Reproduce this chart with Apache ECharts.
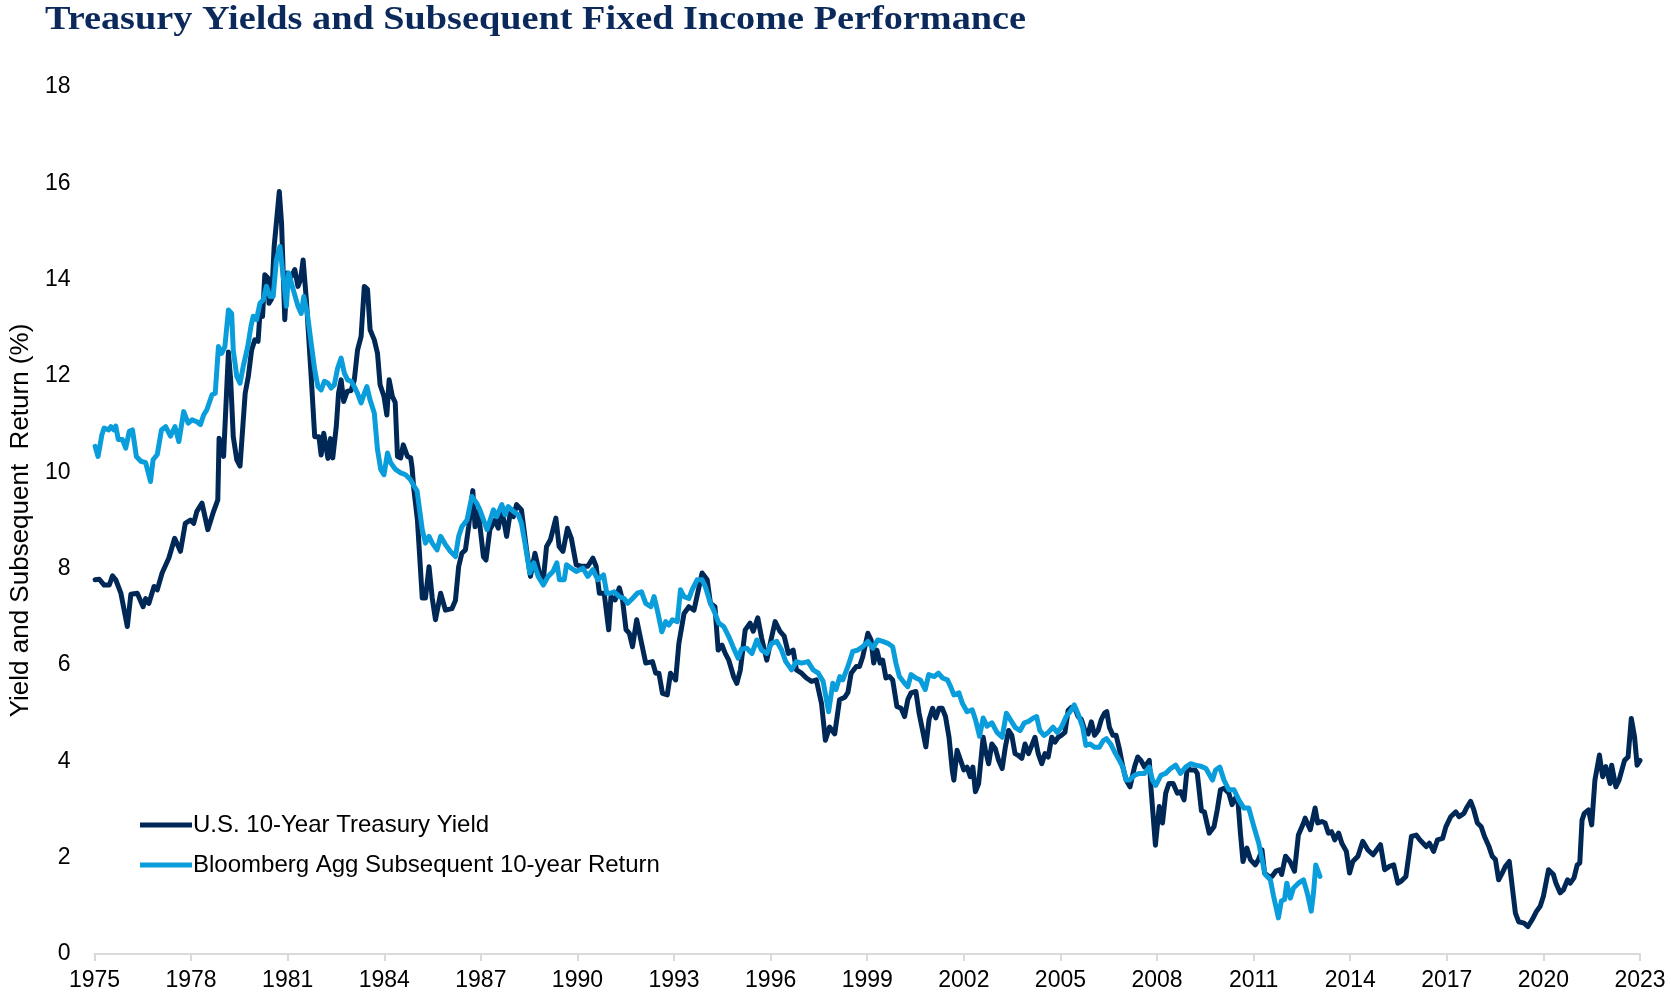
<!DOCTYPE html>
<html>
<head>
<meta charset="utf-8">
<script src="https://cdn.jsdelivr.net/npm/echarts@6/dist/echarts.min.js"></script>
<style>
  html, body { margin: 0; padding: 0; background: #fff; }
  #chart { width: 1671px; height: 998px; }
</style>
</head>
<body>
<div id="chart"></div>
<script>
// [year position on the axis, value in %]
var treasuryYield = [
  [1975.02,7.77],[1975.15,7.78],[1975.30,7.66],[1975.46,7.66],[1975.56,7.85],[1975.66,7.77],[1975.82,7.49],
  [1976.02,6.80],[1976.13,7.47],[1976.33,7.49],[1976.51,7.21],[1976.59,7.38],[1976.69,7.28],[1976.85,7.63],[1976.95,7.56],
  [1977.10,7.91],[1977.31,8.22],[1977.49,8.63],[1977.67,8.36],[1977.82,8.94],[1977.98,9.01],
  [1978.08,8.94],[1978.18,9.19],[1978.34,9.36],[1978.52,8.81],[1978.70,9.19],[1978.83,9.43],[1978.87,10.71],
  [1979.01,10.33],[1979.16,12.50],[1979.23,11.92],[1979.31,10.74],[1979.42,10.26],[1979.52,10.13],[1979.68,11.64],[1979.78,12.00],[1979.88,12.54],[1979.98,12.75],
  [1980.08,12.72],[1980.14,13.30],[1980.22,13.24],[1980.29,14.10],[1980.38,14.04],[1980.42,13.51],[1980.50,13.60],[1980.58,14.69],[1980.74,15.83],[1980.81,15.17],[1980.91,13.17],[1980.99,14.14],
  [1981.12,14.07],[1981.22,14.21],[1981.32,13.86],[1981.40,14.00],[1981.48,14.41],[1981.58,13.58],[1981.73,11.99],[1981.84,10.74],[1981.97,10.74],
  [1982.04,10.36],[1982.12,10.81],[1982.25,10.29],[1982.33,10.70],[1982.40,10.30],[1982.51,10.95],[1982.58,11.64],[1982.66,11.92],[1982.74,11.47],[1982.85,11.68],[1982.97,11.70],
  [1983.07,11.92],[1983.17,12.54],[1983.28,12.82],[1983.38,13.86],[1983.48,13.80],[1983.56,12.96],[1983.69,12.75],[1983.79,12.47],[1983.87,11.82],[1983.99,11.58],
  [1984.08,11.19],[1984.15,11.92],[1984.25,11.58],[1984.34,11.45],[1984.41,10.33],[1984.51,10.30],[1984.59,10.57],[1984.72,10.33],[1984.82,10.30],[1984.86,10.12],[1984.92,9.64],
  [1985.03,9.01],[1985.18,7.39],[1985.28,7.39],[1985.39,8.04],[1985.49,7.39],[1985.59,6.94],[1985.75,7.49],[1985.90,7.14],
  [1986.10,7.17],[1986.21,7.34],[1986.31,8.04],[1986.41,8.32],[1986.52,8.39],[1986.62,8.87],[1986.75,9.62],[1986.82,8.87],[1986.92,9.19],
  [1987.08,8.25],[1987.16,8.18],[1987.28,8.81],[1987.44,9.01],[1987.54,8.84],[1987.65,9.22],[1987.80,8.67],[1987.91,9.15],
  [1988.01,9.08],[1988.11,9.33],[1988.26,9.22],[1988.42,8.39],[1988.54,7.84],[1988.68,8.32],[1988.81,7.94],[1988.94,7.77],
  [1989.04,8.46],[1989.16,8.60],[1989.33,9.05],[1989.43,8.46],[1989.55,8.36],[1989.69,8.84],[1989.81,8.63],[1989.96,8.08],
  [1990.11,8.05],[1990.32,8.05],[1990.48,8.22],[1990.58,8.05],[1990.68,7.49],[1990.83,7.49],[1990.97,6.73],
  [1991.04,7.42],[1991.17,7.35],[1991.30,7.60],[1991.40,7.35],[1991.51,6.73],[1991.61,6.66],[1991.71,6.38],[1991.84,6.94],[1991.97,6.52],
  [1992.12,6.04],[1992.33,6.07],[1992.43,5.83],[1992.53,5.83],[1992.64,5.41],[1992.79,5.38],[1992.89,5.83],
  [1993.05,5.69],[1993.15,6.45],[1993.31,7.07],[1993.46,7.21],[1993.62,7.14],[1993.72,7.45],[1993.87,7.91],
  [1994.03,7.77],[1994.13,7.28],[1994.27,7.21],[1994.37,6.31],[1994.49,6.41],[1994.59,6.24],[1994.70,6.10],[1994.85,5.76],[1994.95,5.62],
  [1995.06,5.90],[1995.21,6.73],[1995.36,6.87],[1995.46,6.70],[1995.60,6.98],[1995.72,6.56],[1995.88,6.10],
  [1996.01,6.52],[1996.14,6.90],[1996.29,6.70],[1996.42,6.60],[1996.55,6.24],[1996.70,6.31],[1996.80,5.90],[1996.96,5.83],
  [1997.11,5.73],[1997.27,5.66],[1997.42,5.69],[1997.58,5.20],[1997.70,4.44],[1997.83,4.71],[1997.99,4.57],
  [1998.14,5.28],[1998.30,5.33],[1998.40,5.43],[1998.50,5.83],[1998.66,5.97],[1998.76,5.97],[1998.86,6.17],
  [1999.02,6.66],[1999.12,6.52],[1999.20,6.04],[1999.30,6.31],[1999.40,6.04],[1999.48,6.10],[1999.58,5.73],[1999.69,5.76],[1999.79,5.69],[1999.92,5.14],
  [2000.05,5.10],[2000.16,4.93],[2000.26,5.28],[2000.36,5.42],[2000.51,5.45],[2000.61,5.00],[2000.72,4.64],[2000.82,4.30],[2000.92,4.87],
  [2001.03,5.10],[2001.13,4.90],[2001.23,5.10],[2001.33,5.10],[2001.43,4.93],[2001.54,4.50],[2001.64,3.82],[2001.69,3.61],[2001.79,4.23],[2001.90,4.02],
  [2002.00,3.82],[2002.10,3.88],[2002.20,3.68],[2002.28,3.88],[2002.36,3.37],[2002.46,3.54],[2002.60,4.50],[2002.67,4.23],[2002.77,3.95],[2002.87,4.36],[2002.98,4.26],
  [2003.08,4.02],[2003.19,3.85],[2003.29,4.30],[2003.39,4.64],[2003.49,4.54],[2003.59,4.16],[2003.70,4.12],[2003.80,4.06],[2003.90,4.36],
  [2004.01,4.16],[2004.11,4.33],[2004.21,4.50],[2004.31,4.16],[2004.42,3.95],[2004.52,4.16],[2004.62,4.09],[2004.73,4.50],[2004.83,4.40],[2004.93,4.50],
  [2005.03,4.54],[2005.14,4.60],[2005.24,5.06],[2005.34,5.12],[2005.45,5.10],[2005.55,4.93],[2005.65,4.87],[2005.76,4.64],[2005.86,4.57],[2005.96,4.82],
  [2006.06,4.54],[2006.17,4.64],[2006.27,4.87],[2006.37,5.00],[2006.44,5.03],[2006.52,4.71],[2006.63,4.54],[2006.73,4.54],[2006.83,4.26],[2006.94,3.88],
  [2007.04,3.61],[2007.16,3.47],[2007.30,3.88],[2007.40,4.09],[2007.50,4.02],[2007.61,3.88],[2007.76,4.02],[2007.81,3.47],[2007.95,2.26],
  [2008.07,3.06],[2008.17,2.72],[2008.27,3.34],[2008.37,3.54],[2008.50,3.54],[2008.63,3.34],[2008.73,3.37],[2008.84,3.20],[2008.94,3.88],
  [2009.04,3.82],[2009.18,3.82],[2009.25,3.75],[2009.38,2.97],[2009.47,2.95],[2009.62,2.51],[2009.77,2.64],[2009.87,2.99],[2009.97,3.41],
  [2010.08,3.44],[2010.23,3.34],[2010.33,3.10],[2010.43,3.23],[2010.51,3.20],[2010.59,2.51],[2010.67,1.92],[2010.79,2.20],[2010.90,1.96],
  [2011.05,1.85],[2011.15,1.96],[2011.26,2.16],[2011.34,1.68],[2011.47,1.61],[2011.57,1.61],[2011.69,1.72],[2011.82,1.75],[2011.87,1.65],[2011.99,2.03],
  [2012.13,1.92],[2012.27,1.72],[2012.39,2.47],[2012.55,2.72],[2012.60,2.82],[2012.76,2.58],[2012.91,3.03],[2012.99,2.72],
  [2013.12,2.75],[2013.22,2.72],[2013.32,2.51],[2013.42,2.54],[2013.52,2.37],[2013.64,2.51],[2013.74,2.30],[2013.88,2.13],[2013.98,1.68],
  [2014.08,1.92],[2014.24,2.03],[2014.39,2.34],[2014.55,2.16],[2014.71,2.06],[2014.94,2.27],
  [2015.07,1.75],[2015.22,1.82],[2015.35,1.85],[2015.48,1.47],[2015.58,1.51],[2015.73,1.61],[2015.90,2.44],
  [2016.05,2.47],[2016.16,2.37],[2016.36,2.23],[2016.46,2.30],[2016.59,2.13],[2016.71,2.37],[2016.87,2.40],[2016.97,2.64],
  [2017.12,2.85],[2017.28,2.95],[2017.38,2.85],[2017.53,2.92],[2017.61,3.03],[2017.74,3.17],[2017.84,2.99],[2017.95,2.72],
  [2018.07,2.64],[2018.17,2.44],[2018.31,2.23],[2018.41,2.03],[2018.51,1.96],[2018.61,1.54],[2018.72,1.68],[2018.82,1.82],[2018.94,1.92],
  [2019.03,1.41],[2019.13,0.85],[2019.23,0.67],[2019.40,0.64],[2019.52,0.57],[2019.65,0.71],[2019.78,0.88],[2019.90,0.99],
  [2020.00,1.20],[2020.16,1.75],[2020.31,1.65],[2020.39,1.47],[2020.52,1.27],[2020.62,1.33],[2020.75,1.54],[2020.83,1.47],[2020.95,1.58],
  [2021.05,1.85],[2021.13,1.89],[2021.20,2.78],[2021.27,2.92],[2021.40,2.99],[2021.50,2.68],[2021.60,3.61],[2021.74,4.13],[2021.84,3.68],[2021.94,3.89],
  [2022.07,3.54],[2022.12,3.92],[2022.25,3.47],[2022.35,3.61],[2022.52,4.02],[2022.63,4.09],[2022.73,4.89],[2022.83,4.51],[2022.91,3.92],[2023.00,4.02]
];

var aggReturn = [
  [1975.02,10.54],[1975.11,10.33],[1975.23,10.78],[1975.30,10.92],[1975.44,10.88],[1975.51,10.95],[1975.60,10.88],[1975.66,10.96],[1975.74,10.68],[1975.87,10.68],[1975.97,10.50],
  [1976.08,10.85],[1976.18,10.88],[1976.30,10.33],[1976.44,10.23],[1976.59,10.20],[1976.74,9.81],[1976.82,10.26],[1976.95,10.37],
  [1977.08,10.88],[1977.21,10.95],[1977.36,10.75],[1977.50,10.95],[1977.62,10.64],[1977.77,11.26],[1977.91,11.02],
  [1978.03,11.09],[1978.18,11.05],[1978.29,10.99],[1978.39,11.19],[1978.49,11.30],[1978.65,11.61],[1978.75,11.64],[1978.85,12.61],[1978.95,12.47],
  [1979.05,12.61],[1979.16,13.37],[1979.26,13.30],[1979.31,12.54],[1979.42,11.99],[1979.52,11.85],[1979.62,12.20],[1979.76,12.61],[1979.86,13.03],[1979.93,13.24],
  [1980.03,13.17],[1980.14,13.51],[1980.24,13.58],[1980.34,13.86],[1980.45,13.65],[1980.55,13.65],[1980.65,14.41],[1980.76,14.69],[1980.86,14.07],[1980.96,13.45],
  [1981.03,14.14],[1981.17,13.80],[1981.32,13.45],[1981.42,13.30],[1981.50,13.65],[1981.61,13.30],[1981.73,12.68],[1981.84,12.13],[1981.94,11.78],
  [1982.04,11.71],[1982.14,11.89],[1982.25,11.85],[1982.35,11.75],[1982.45,11.82],[1982.55,12.16],[1982.66,12.37],[1982.76,12.06],[1982.86,11.92],[1982.97,11.89],
  [1983.07,11.78],[1983.17,11.64],[1983.28,11.44],[1983.38,11.64],[1983.46,11.78],[1983.56,11.50],[1983.69,11.23],[1983.79,10.47],[1983.89,10.06],[1983.99,9.95],
  [1984.10,10.40],[1984.20,10.20],[1984.35,10.06],[1984.51,9.99],[1984.66,9.95],[1984.81,9.85],[1984.92,9.72],
  [1985.02,9.61],[1985.07,9.57],[1985.18,8.81],[1985.28,8.53],[1985.39,8.67],[1985.49,8.53],[1985.64,8.39],[1985.75,8.67],[1985.90,8.50],
  [1986.05,8.36],[1986.21,8.25],[1986.31,8.67],[1986.41,8.87],[1986.57,9.01],[1986.72,9.50],[1986.87,9.36],[1986.97,9.22],
  [1987.19,8.81],[1987.39,9.22],[1987.49,9.08],[1987.65,9.33],[1987.75,9.12],[1987.85,9.29],
  [1988.01,9.19],[1988.16,9.12],[1988.26,8.94],[1988.37,8.53],[1988.52,7.91],[1988.64,8.12],[1988.78,7.84],[1988.94,7.66],
  [1989.09,7.84],[1989.24,7.94],[1989.36,8.12],[1989.44,7.77],[1989.59,7.77],[1989.66,8.08],[1989.81,8.01],[1989.96,7.94],
  [1990.17,8.01],[1990.32,7.84],[1990.48,7.98],[1990.63,7.77],[1990.81,7.87],[1990.91,7.49],
  [1991.02,7.49],[1991.14,7.52],[1991.30,7.42],[1991.45,7.38],[1991.56,7.28],[1991.71,7.38],[1991.86,7.49],[1991.99,7.52],
  [1992.12,7.28],[1992.28,7.21],[1992.38,7.42],[1992.48,7.14],[1992.62,6.69],[1992.74,6.90],[1992.84,6.83],[1992.95,6.94],
  [1993.10,6.90],[1993.20,7.56],[1993.31,7.42],[1993.46,7.38],[1993.56,7.56],[1993.72,7.77],[1993.87,7.77],[1993.97,7.63],
  [1994.13,7.28],[1994.23,7.14],[1994.39,6.87],[1994.54,6.80],[1994.70,6.59],[1994.85,6.35],[1994.99,6.14],
  [1995.09,6.33],[1995.26,6.35],[1995.42,6.24],[1995.57,6.52],[1995.72,6.31],[1995.88,6.24],
  [1996.03,6.45],[1996.19,6.49],[1996.34,6.31],[1996.47,6.07],[1996.65,5.90],[1996.80,6.07],[1996.96,6.04],
  [1997.16,6.07],[1997.32,5.90],[1997.48,5.83],[1997.63,5.66],[1997.80,5.03],[1997.93,5.62],
  [1998.03,5.49],[1998.15,5.76],[1998.24,5.69],[1998.40,5.97],[1998.55,6.28],[1998.70,6.31],[1998.86,6.38],
  [1999.02,6.49],[1999.17,6.35],[1999.33,6.52],[1999.48,6.49],[1999.64,6.45],[1999.79,6.38],[1999.89,6.04],
  [2000.00,5.76],[2000.16,5.62],[2000.26,5.55],[2000.36,5.80],[2000.51,5.73],[2000.65,5.69],[2000.80,5.49],[2000.91,5.80],
  [2001.08,5.76],[2001.21,5.83],[2001.34,5.73],[2001.49,5.69],[2001.59,5.55],[2001.69,5.38],[2001.85,5.42],[2001.95,5.21],
  [2002.10,5.03],[2002.26,5.07],[2002.36,4.87],[2002.49,4.52],[2002.60,4.90],[2002.72,4.73],[2002.87,4.80],
  [2003.03,4.60],[2003.19,4.50],[2003.32,5.00],[2003.44,4.87],[2003.60,4.70],[2003.75,4.64],[2003.88,4.80],
  [2004.01,4.83],[2004.16,4.90],[2004.26,4.93],[2004.36,4.64],[2004.49,4.54],[2004.62,4.60],[2004.77,4.71],[2004.90,4.60],
  [2005.03,4.71],[2005.18,4.93],[2005.30,5.03],[2005.43,5.17],[2005.54,5.00],[2005.69,4.71],[2005.79,4.33],[2005.92,4.36],
  [2006.06,4.29],[2006.21,4.29],[2006.33,4.43],[2006.43,4.47],[2006.56,4.36],[2006.71,4.16],[2006.83,4.02],[2006.94,3.88],
  [2007.04,3.61],[2007.14,3.61],[2007.30,3.71],[2007.45,3.75],[2007.61,3.75],[2007.76,3.88],[2007.86,3.61],[2007.96,3.50],
  [2008.12,3.71],[2008.27,3.75],[2008.42,3.85],[2008.58,3.92],[2008.73,3.75],[2008.89,3.88],
  [2009.04,3.95],[2009.20,3.92],[2009.35,3.90],[2009.52,3.85],[2009.72,3.61],[2009.82,3.82],[2009.95,3.88],
  [2010.08,3.61],[2010.23,3.41],[2010.39,3.41],[2010.54,3.20],[2010.70,3.03],[2010.85,3.03],
  [2011.01,2.64],[2011.16,2.30],[2011.26,1.96],[2011.36,1.65],[2011.52,1.54],[2011.62,1.20],[2011.77,0.75],[2011.86,1.10],[2011.96,1.13],
  [2012.03,1.47],[2012.14,1.16],[2012.24,1.37],[2012.39,1.47],[2012.55,1.54],[2012.68,1.23],[2012.79,0.89],[2012.86,1.27],[2012.93,1.85],[2013.06,1.61]
];

var seriesNames = ['U.S. 10-Year Treasury Yield', 'Bloomberg Agg Subsequent 10-year Return'];
var seriesColors = ['#002856', '#0a9ddb'];
var titleText = 'Treasury Yields and Subsequent Fixed Income Performance';

var chart = echarts.init(document.getElementById('chart'));

var option = {
  animation: false,
  backgroundColor: '#fff',
  // title drawn as graphic text so it can be widened like the original condensed-serif heading
  graphic: [{
    type: 'text',
    x: 45,
    y: 3,
    scaleX: 1.125,
    style: {
      text: titleText,
      font: 'bold 34px "Liberation Serif"',
      fill: '#0b2a5b'
    }
  }],
  grid: { left: 88, right: 31, top: 87, bottom: 44 },
  legend: {
    orient: 'vertical',
    left: 135,
    top: 808,
    icon: 'rect',
    itemWidth: 52,
    itemHeight: 5,
    itemGap: 16,
    data: seriesNames,
    textStyle: { fontFamily: 'Liberation Sans', fontSize: 24, color: '#000', padding: [0, 0, 0, -4] }
  },
  xAxis: {
    type: 'value',
    min: 1975,
    max: 2023,
    interval: 3,
    splitLine: { show: false },
    axisLine: { lineStyle: { color: '#d9d9d9', width: 2 } },
    axisTick: { show: true, length: 7, lineStyle: { color: '#d9d9d9', width: 2 } },
    axisLabel: {
      margin: 15,
      fontFamily: 'Liberation Sans',
      fontSize: 23,
      color: '#000',
      formatter: function (v) { return String(Math.round(v)); }
    }
  },
  yAxis: {
    type: 'value',
    min: 0,
    max: 18,
    interval: 2,
    name: 'Yield and Subsequent  Return (%)',
    nameLocation: 'middle',
    nameGap: 55,
    nameTextStyle: { fontFamily: 'Liberation Sans', fontSize: 26, color: '#000' },
    splitLine: { show: false },
    axisLine: { show: false },
    axisTick: { show: false },
    axisLabel: { margin: 24, fontFamily: 'Liberation Sans', fontSize: 23, color: '#000' }
  },
  series: [
    {
      name: seriesNames[0],
      type: 'line',
      data: treasuryYield,
      symbol: 'none',
      color: seriesColors[0],
      lineStyle: { width: 5, color: seriesColors[0], join: 'round', cap: 'round' }
    },
    {
      name: seriesNames[1],
      type: 'line',
      data: aggReturn,
      symbol: 'none',
      color: seriesColors[1],
      lineStyle: { width: 5, color: seriesColors[1], join: 'round', cap: 'round' }
    }
  ]
};

chart.setOption(option);
</script>
</body>
</html>
